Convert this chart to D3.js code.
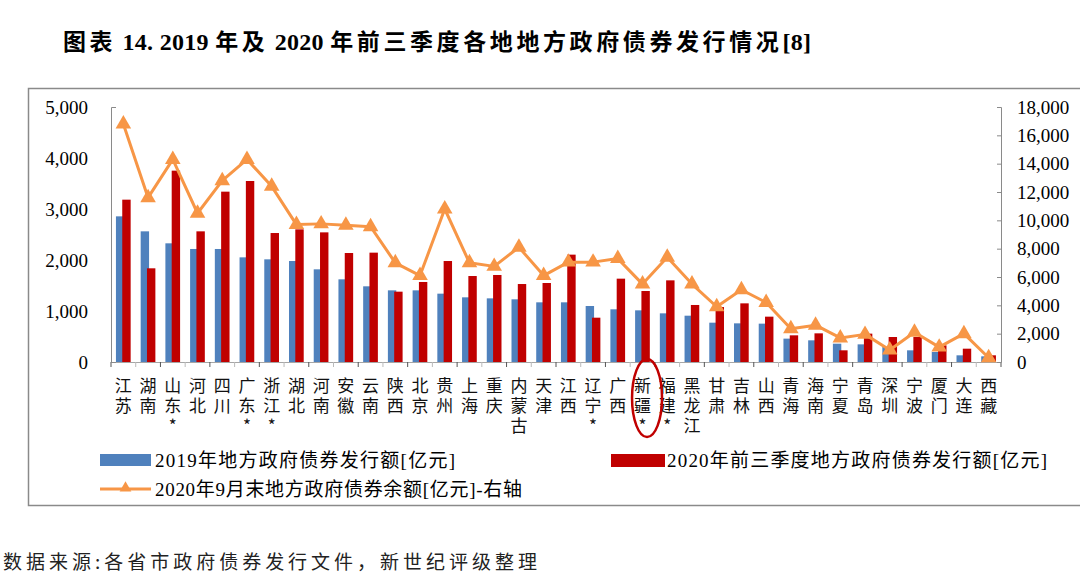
<!DOCTYPE html>
<html>
<head>
<meta charset="utf-8">
<script src="https://cdn.jsdelivr.net/npm/d3@7"></script>
<style>
  body { margin: 0; background: #fff; }
  svg { display: block; }
  .cat { writing-mode: vertical-rl; text-orientation: upright; }
</style>
</head>
<body>
<svg id="chart" width="1080" height="577"></svg>
<script>
// data
var cats = ['江苏','湖南','山东*','河北','四川','广东*','浙江*','湖北','河南','安徽','云南','陕西','北京','贵州','上海','重庆','内蒙古','天津','江西','辽宁*','广西','新疆*','福建*','黑龙江','甘肃','吉林','山西','青海','海南','宁夏','青岛','深圳','宁波','厦门','大连','西藏'];
var issue2019 = [2856,2562,2327,2216,2216,2052,2013,1980,1817,1621,1484,1405,1405,1340,1268,1248,1229,1170,1170,1098,1033,1013,954,908,771,758,752,458,425,359,346,294,229,196,131,111];
var issue2020 = [3183,1837,3752,2562,3340,3549,2529,2601,2542,2137,2144,1379,1569,1980,1686,1706,1529,1549,2105,869,1634,1392,1601,1118,1078,1150,889,523,562,229,556,490,490,327,261,131];
var debt2020 = [16800,11600,14300,10500,12800,14300,12400,9700,9750,9650,9550,7000,6100,10800,7000,6750,8100,6100,7050,7050,7300,5500,7400,5500,3900,5100,4200,2350,2600,1700,1950,850,2100,1050,2000,300];
var leftTicks = [0,1000,2000,3000,4000,5000];
var rightTicks = [0,2000,4000,6000,8000,10000,12000,14000,16000,18000];
var legendNames = ['2019年地方政府债券发行额[亿元]', '2020年前三季度地方政府债券发行额[亿元]', '2020年9月末地方政府债券余额[亿元]-右轴'];
var titleParts = ['图表', ' 14. 2019 ', '年及', ' 2020 ', '年前三季度各地地方政府债券发行情况', '[8]'];
var sourceText = '数据来源:各省市政府债券发行文件，新世纪评级整理';

var blue = '#4F81BD', red = '#C00000', orange = '#F79646';
var serif = "'Liberation Serif','Noto Sans CJK SC',serif";
var cjk = "'Noto Sans CJK SC','Liberation Serif',sans-serif";

var svg = d3.select('#chart');

var plot = {l: 111, r: 1001, t: 107, b: 362};

var x = d3.scaleBand().domain(cats).range([plot.l, plot.r]);
var yL = d3.scaleLinear().domain([0, 5000]).range([plot.b, plot.t]);
var yR = d3.scaleLinear().domain([0, 18000]).range([plot.b, plot.t]);

// title: CJK parts spaced out, numbers tight
var title = svg.append('text')
  .attr('x', 63).attr('y', 50)
  .style('font-family', serif).style('font-weight', 'bold').style('font-size', '22px');
title.selectAll('tspan')
  .data(titleParts)
  .enter().append('tspan')
  .style('letter-spacing', function(d, i) { return i % 2 ? '0.3px' : '3.6px'; })
  .style('font-size', function(d, i) { return i % 2 ? '24px' : '23px'; })
  .text(function(d) { return d; });

// frame
svg.append('rect')
  .attr('x', 28.5).attr('y', 88.5).attr('width', 1070).attr('height', 417)
  .attr('fill', 'none').attr('stroke', '#8a8a8a').attr('stroke-width', 1.5);

var bw = x.bandwidth();
var barW = bw * 0.34;
function cx(d) { return x(d) + bw / 2; }

// bars
svg.append('g').selectAll('rect')
  .data(cats)
  .enter().append('rect')
  .attr('x', function(d) { return cx(d) - bw * 0.3; })
  .attr('y', function(d, i) { return yL(issue2019[i]); })
  .attr('width', barW)
  .attr('height', function(d, i) { return plot.b - yL(issue2019[i]); })
  .attr('fill', blue);

svg.append('g').selectAll('rect')
  .data(cats)
  .enter().append('rect')
  .attr('x', function(d) { return cx(d) - bw * 0.045; })
  .attr('y', function(d, i) { return yL(issue2020[i]); })
  .attr('width', barW)
  .attr('height', function(d, i) { return plot.b - yL(issue2020[i]); })
  .attr('fill', red);

// x axis line + ticks between categories
svg.append('line')
  .attr('x1', plot.l).attr('x2', plot.r).attr('y1', plot.b + 0.5).attr('y2', plot.b + 0.5)
  .attr('stroke', '#a6a6a6').attr('stroke-width', 1);
svg.append('g').selectAll('line')
  .data(d3.range(cats.length + 1))
  .enter().append('line')
  .attr('x1', function(i) { return plot.l + i * x.step(); })
  .attr('x2', function(i) { return plot.l + i * x.step(); })
  .attr('y1', plot.b).attr('y2', plot.b + 5)
  .attr('stroke', function(i) { return i % 2 ? '#bbbbbb' : '#555'; });

// left axis
var axL = svg.append('g')
  .attr('transform', 'translate(' + plot.l + ',0)')
  .call(d3.axisLeft(yL).tickValues(leftTicks).tickSizeInner(0).tickSizeOuter(-5).tickPadding(23).tickFormat(d3.format(',')));
axL.select('.domain').attr('stroke', '#8a8a8a');
axL.selectAll('text').style('font-family', serif).style('font-size', '19px').attr('fill', '#000');

// right axis
var axR = svg.append('g')
  .attr('transform', 'translate(' + plot.r + ',0)')
  .call(d3.axisRight(yR).tickValues(rightTicks).tickSizeInner(-4).tickSizeOuter(-4).tickPadding(16).tickFormat(d3.format(',')));
axR.select('.domain').attr('stroke', '#8a8a8a');
axR.selectAll('line').attr('stroke', '#8a8a8a');
axR.selectAll('text').style('font-family', serif).style('font-size', '19px').attr('fill', '#000');

// line + triangle markers
var line = d3.line()
  .x(function(d, i) { return cx(cats[i]); })
  .y(function(d) { return yR(d); });

svg.append('path')
  .datum(debt2020)
  .attr('d', line)
  .attr('fill', 'none')
  .attr('stroke', orange)
  .attr('stroke-width', 3)
  .attr('stroke-linejoin', 'round');

var tri = d3.symbol().type(d3.symbolTriangle).size(105);
svg.append('g').selectAll('path')
  .data(debt2020)
  .enter().append('path')
  .attr('d', tri)
  .attr('transform', function(d, i) { return 'translate(' + cx(cats[i]) + ',' + yR(d) + ')'; })
  .attr('fill', orange);

// category labels, written top to bottom
svg.append('g').selectAll('text')
  .data(cats)
  .enter().append('text')
  .attr('class', 'cat')
  .attr('x', function(d) { return cx(d); })
  .attr('y', 377)
  .style('font-family', cjk)
  .style('font-size', '17px')
  .style('letter-spacing', '3px')
  .attr('fill', '#111')
  .text(function(d) { return d; });

// red ellipse round 新疆
svg.append('ellipse')
  .attr('cx', cx('新疆*') + 4.5).attr('cy', 398)
  .attr('rx', 15).attr('ry', 39)
  .attr('fill', 'none').attr('stroke', red).attr('stroke-width', 2.5);

// legend
var legend = svg.append('g');
legend.append('rect').attr('x', 100).attr('y', 454).attr('width', 51).attr('height', 12).attr('fill', blue);
legend.append('rect').attr('x', 611).attr('y', 454).attr('width', 54).attr('height', 13).attr('fill', red);
legend.append('line').attr('x1', 100).attr('x2', 151).attr('y1', 489).attr('y2', 489)
  .attr('stroke', orange).attr('stroke-width', 3);
legend.append('path').attr('d', tri.size(60)).attr('transform', 'translate(125.5,488)').attr('fill', orange);

var legendPos = [[155, 467, 300], [667, 467, 380], [155, 496, 367]];
legend.selectAll('text')
  .data(legendNames)
  .enter().append('text')
  .attr('x', function(d, i) { return legendPos[i][0]; })
  .attr('y', function(d, i) { return legendPos[i][1]; })
  .attr('textLength', function(d, i) { return legendPos[i][2]; })
  .style('font-family', serif).style('font-size', '19px')
  .text(function(d) { return d; });

// source note
svg.append('text')
  .attr('x', 3).attr('y', 569)
  .attr('textLength', 534)
  .style('font-family', cjk).style('font-size', '19px').attr('fill', '#222')
  .text(sourceText);
</script>
</body>
</html>
